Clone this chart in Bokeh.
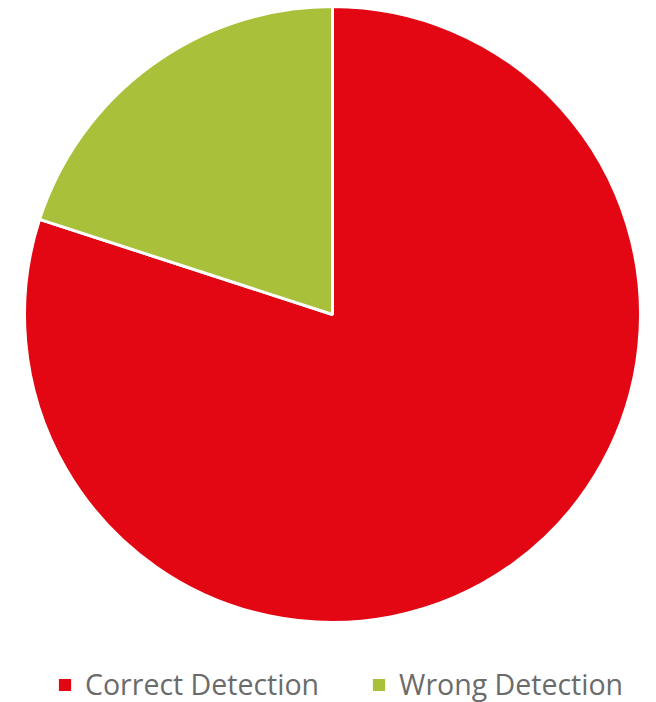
import math
from bokeh.plotting import figure
from bokeh.models import ColumnDataSource, Range1d, Legend, LegendItem
from bokeh.embed import file_html
from bokeh.resources import INLINE

categories = ["Correct Detection", "Wrong Detection"]
values = [80, 20]
colors = ["#E30613", "#A8C03A"]

total = sum(values)
starts, ends = [], []
cum = 0.0
for v in values:
    starts.append(math.radians(90 - cum / total * 360))
    cum += v
    ends.append(math.radians(90 - cum / total * 360))

src = ColumnDataSource(dict(cat=categories, val=values, color=colors, start=starts, end=ends))

W, H = 640, 702
cx, cy, R = 332, 314, 308
p = figure(width=W, height=H, output_backend="svg", toolbar_location=None,
           x_range=Range1d(-cx / R, (W - cx) / R), y_range=Range1d(-(H - cy) / R, cy / R),
           min_border=0, outline_line_color=None)
p.axis.visible = False
p.grid.visible = False

r = p.wedge(x=0, y=0, radius=1, start_angle="start", end_angle="end", direction="clock",
            fill_color="color", line_color="white", line_width=3, source=src)

legend = Legend(items=[LegendItem(label=c, renderers=[r], index=i) for i, c in enumerate(categories)],
                orientation="horizontal", location=(55, -1), padding=0, margin=0, spacing=50,
                glyph_width=19, glyph_height=19, label_standoff=11,
                label_text_font="Open Sans", label_text_font_size="28.5px", label_text_color="#6b6b6b",
                border_line_alpha=0, background_fill_alpha=0)
p.add_layout(legend, "center")

open("out.html", "w").write(file_html(p, INLINE))
